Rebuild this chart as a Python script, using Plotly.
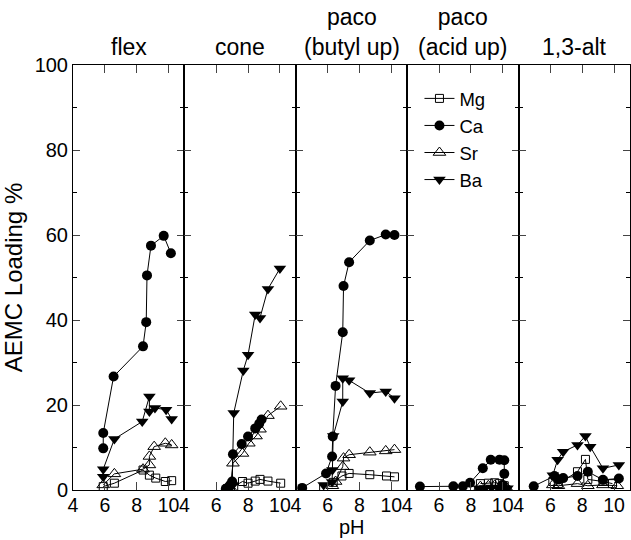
import plotly.graph_objects as go

PANELS = ["flex", "cone", "paco<br>(butyl up)", "paco<br>(acid up)", "1,3-alt"]
ELEMENTS = ["Mg", "Ca", "Sr", "Ba"]
X_TICKS = [4, 6, 8, 10]
Y_TICKS = [0, 20, 40, 60, 80, 100]

# flex
FLEX_MG_X = [5.9, 6.6, 8.4, 8.8, 9.2, 9.8, 10.2]
FLEX_MG_Y = [0.8, 1.6, 4.7, 3.5, 2.8, 2.0, 2.2]
FLEX_CA_X = [5.9, 5.9, 6.55, 8.4, 8.6, 8.65, 8.9, 9.7, 10.15]
FLEX_CA_Y = [9.8, 13.4, 26.7, 33.8, 39.5, 50.5, 57.5, 59.8, 55.7]
FLEX_SR_X = [5.9, 6.6, 8.4, 8.8, 8.8, 9.1, 9.8, 10.2]
FLEX_SR_Y = [1.2, 3.8, 4.9, 5.9, 7.9, 10.2, 11.0, 10.6]
FLEX_BA_X = [5.9, 5.9, 6.6, 8.35, 8.8, 8.8, 9.15, 9.85, 10.2]
FLEX_BA_Y = [3.1, 4.9, 12.0, 16.1, 22.0, 18.5, 19.3, 18.9, 16.7]

# cone
CONE_MG_X = [6.7, 6.9, 7.1, 7.65, 8.0, 8.45, 8.75, 9.25, 10.05]
CONE_MG_Y = [0.3, 0.5, 0.8, 2.0, 1.6, 2.1, 2.5, 2.1, 1.6]
CONE_CA_X = [6.6, 6.8, 6.9, 7.0, 7.05, 7.6, 8.0, 8.45, 8.7, 8.85]
CONE_CA_Y = [0.3, 0.8, 1.3, 2.0, 8.4, 10.8, 12.6, 14.5, 15.6, 16.6]
CONE_SR_X = [6.9, 7.05, 7.65, 8.05, 8.5, 8.75, 9.25, 10.05]
CONE_SR_Y = [0.5, 6.3, 8.6, 11.0, 12.7, 14.3, 17.5, 19.7]
CONE_BA_X = [6.8, 7.0, 7.1, 7.7, 8.0, 8.45, 8.75, 9.25, 10.0]
CONE_BA_Y = [0.5, 1.0, 18.1, 28.1, 31.8, 41.3, 40.5, 47.3, 52.1]

# paco (butyl up)
PB_MG_X = [5.75, 6.35, 6.9, 7.35, 8.65, 9.7, 10.2]
PB_MG_Y = [0.6, 1.8, 3.3, 3.9, 3.6, 3.3, 3.1]
PB_CA_X = [4.4, 5.9, 6.28, 6.32, 6.5, 6.95, 7.0, 7.35, 8.65, 9.65, 10.2]
PB_CA_Y = [0.5, 3.9, 7.9, 12.6, 24.5, 37.1, 48.0, 53.6, 58.7, 60.1, 60.0]
PB_SR_X = [6.3, 6.5, 6.95, 7.0, 7.35, 8.65, 9.65, 10.2]
PB_SR_Y = [1.0, 2.0, 5.5, 7.5, 8.3, 8.9, 9.2, 9.5]
PB_BA_X = [5.75, 6.28, 6.3, 6.35, 6.95, 6.95, 7.35, 8.65, 9.65, 10.2]
PB_BA_Y = [1.2, 1.9, 4.7, 12.7, 20.8, 26.3, 25.8, 22.8, 23.2, 21.6]

# paco (acid up)
PA_MG_X = [8.6, 9.1, 9.5, 9.8, 10.1]
PA_MG_Y = [1.5, 1.6, 1.7, 1.5, 1.0]
PA_CA_X = [4.8, 6.9, 7.5, 7.95, 8.75, 9.25, 9.8, 10.1, 10.1, 10.0]
PA_CA_Y = [0.8, 0.9, 0.9, 1.7, 5.1, 7.1, 7.1, 7.0, 3.8, 1.2]
PA_SR_X = [8.6, 9.1, 9.5, 9.9, 10.2]
PA_SR_Y = [0.8, 1.0, 1.1, 1.0, 0.7]
PA_BA_X = [8.5, 8.9, 9.3, 9.7, 10.1, 10.3]
PA_BA_Y = [0.4, 0.5, 0.6, 0.5, 0.5, 0.4]

# 1,3-alt
ALT_MG_X = [6.15, 6.5, 7.7, 8.2, 8.35, 9.3, 9.9]
ALT_MG_Y = [2.0, 1.5, 4.3, 7.2, 2.5, 2.0, 1.5]
ALT_CA_X = [4.95, 6.25, 6.55, 6.8, 7.7, 8.35, 9.3, 10.3]
ALT_CA_Y = [0.9, 3.3, 2.5, 2.8, 3.3, 4.3, 2.4, 2.7]
ALT_SR_X = [6.15, 6.5, 7.7, 8.35, 9.3, 10.2]
ALT_SR_Y = [1.2, 1.0, 1.5, 1.0, 1.2, 1.0]
ALT_BA_X = [6.15, 6.45, 6.8, 7.7, 8.2, 8.5, 9.3, 10.3]
ALT_BA_Y = [3.5, 7.1, 9.0, 10.6, 12.7, 10.2, 5.1, 5.9]

DATA = [
    [(FLEX_MG_X, FLEX_MG_Y), (FLEX_CA_X, FLEX_CA_Y), (FLEX_SR_X, FLEX_SR_Y), (FLEX_BA_X, FLEX_BA_Y)],
    [(CONE_MG_X, CONE_MG_Y), (CONE_CA_X, CONE_CA_Y), (CONE_SR_X, CONE_SR_Y), (CONE_BA_X, CONE_BA_Y)],
    [(PB_MG_X, PB_MG_Y), (PB_CA_X, PB_CA_Y), (PB_SR_X, PB_SR_Y), (PB_BA_X, PB_BA_Y)],
    [(PA_MG_X, PA_MG_Y), (PA_CA_X, PA_CA_Y), (PA_SR_X, PA_SR_Y), (PA_BA_X, PA_BA_Y)],
    [(ALT_MG_X, ALT_MG_Y), (ALT_CA_X, ALT_CA_Y), (ALT_SR_X, ALT_SR_Y), (ALT_BA_X, ALT_BA_Y)],
]

MARKERS = {
    "Mg": dict(symbol="square-open", size=8, color="black", line=dict(width=1, color="black")),
    "Ca": dict(symbol="circle", size=10, color="black"),
    "Sr": dict(symbol="triangle-up-open", size=11, color="black", line=dict(width=1, color="black")),
    "Ba": dict(symbol="triangle-down", size=11, color="black"),
}

FONT = "Liberation Sans, Arial, Helvetica, sans-serif"
fig = go.Figure()
n = len(PANELS)
for i in range(n):
    sfx = "" if i == 0 else str(i + 1)
    for j, el in enumerate(ELEMENTS):
        xs, ys = DATA[i][j]
        fig.add_trace(go.Scatter(
            x=xs, y=ys, mode="lines+markers", name=el,
            xaxis="x" + sfx, yaxis="y" + sfx,
            line=dict(color="black", width=1),
            marker=MARKERS[el],
            showlegend=(i == 0),
        ))
    d0, d1 = i / n, (i + 1) / n
    fig.layout["xaxis" + sfx] = dict(
        domain=[d0, d1], range=[4, 11], tickvals=X_TICKS, ticks="inside", ticklen=8,
        showline=True, linecolor="black", linewidth=1, mirror="ticks",
        showgrid=False, zeroline=False, anchor="y" + sfx, ticklabelstandoff=-2,
        tickfont=dict(size=19.5, color="black", family=FONT),
    )
    fig.layout["yaxis" + sfx] = dict(
        domain=[0, 1], range=[0, 100], tickvals=Y_TICKS, ticks="inside", ticklen=7,
        showline=True, linecolor="black", linewidth=1, mirror="ticks",
        showgrid=False, zeroline=False, anchor="x" + sfx,
        showticklabels=(i == 0),
        minor=dict(dtick=10, ticks="inside", ticklen=4, tickcolor="black"),
        tickfont=dict(size=20, color="black", family=FONT),
    )
    fig.add_annotation(
        x=(d0 + d1) / 2, y=1, xref="paper", yref="paper", xanchor="center", yanchor="bottom",
        text=PANELS[i], showarrow=False, yshift=3,
        font=dict(size=23, color="black", family=FONT),
    )

fig.layout.yaxis.title = dict(text="AEMC Loading %", font=dict(size=24, color="black", family=FONT), standoff=6)
fig.add_annotation(
    x=0.5, y=0, xref="paper", yref="paper", yanchor="bottom", xanchor="center",
    text="pH", showarrow=False, yshift=-49, borderpad=0,
    font=dict(size=20, color="black", family=FONT),
)

fig.update_layout(
    width=631, height=540,
    margin=dict(l=73, r=1, t=65, b=50),
    plot_bgcolor="white", paper_bgcolor="white",
    legend=dict(x=0.622, y=0.965, xanchor="left", yanchor="top", bgcolor="rgba(0,0,0,0)",
                font=dict(size=18.5, color="black", family=FONT), tracegroupgap=0,
                itemsizing="trace"),
)

fig.write_html("out.html", config={"displayModeBar": False},
               post_script="document.body.style.margin='0px';")
